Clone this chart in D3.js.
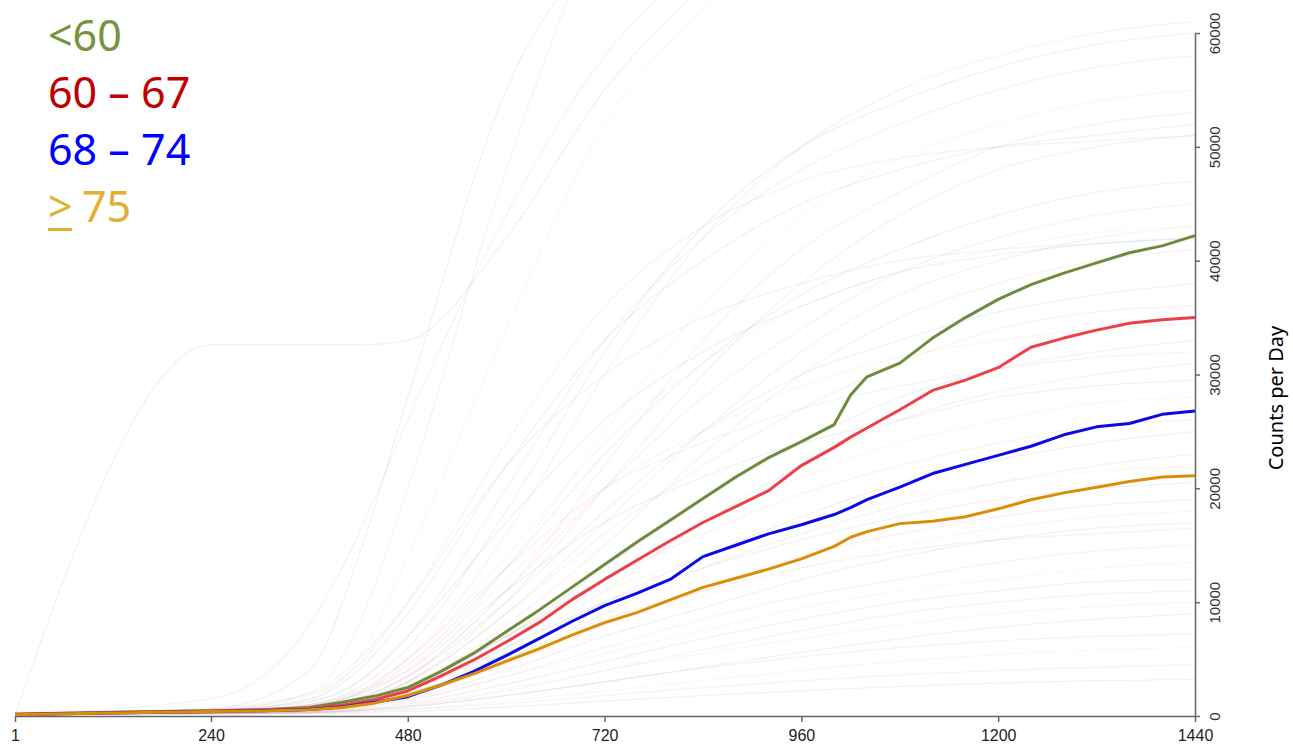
<!DOCTYPE html>
<html>
<head>
<meta charset="utf-8">
<script src="https://cdn.jsdelivr.net/npm/d3@7"></script>
<style>
  html, body { margin: 0; padding: 0; background: #fff; }
  #container { width: 1293px; height: 747px; }
</style>
</head>
<body>
<div id="container"></div>
<script>
////////// DATA

// minute of day for the group averages
var minutes = [1, 60, 120, 180, 240, 300, 360, 400, 440, 480, 520, 560, 600, 640, 680, 720,
	760, 800, 840, 880, 920, 960, 1000, 1020, 1040, 1080, 1120, 1160, 1200, 1240, 1280, 1320,
	1360, 1400, 1440];

// cumulative counts, one array per age group
var under60 = [150, 250, 330, 400, 470, 560, 750, 1200, 1750, 2500, 3900, 5500, 7400, 9300,
	11300, 13300, 15300, 17200, 19100, 21000, 22700, 24100, 25600, 28200, 29800, 31000, 33200,
	35000, 36600, 37900, 38900, 39800, 40700, 41300, 42200];
var age60to67 = [150, 230, 300, 370, 440, 520, 650, 950, 1450, 2200, 3500, 4900, 6500, 8200,
	10200, 12000, 13700, 15400, 17000, 18400, 19800, 22000, 23600, 24500, 25300, 26900, 28600,
	29500, 30600, 32400, 33200, 33900, 34500, 34800, 35000];
var age68to74 = [120, 200, 270, 330, 400, 470, 580, 800, 1200, 1700, 2700, 3900, 5300, 6800,
	8300, 9700, 10800, 12000, 14000, 15000, 16000, 16800, 17700, 18300, 19000, 20100, 21300,
	22100, 22900, 23700, 24700, 25400, 25700, 26500, 26800];
var age75plus = [120, 200, 270, 330, 400, 450, 560, 750, 1150, 1800, 2700, 3700, 4800, 5900,
	7100, 8200, 9100, 10200, 11300, 12100, 12900, 13800, 14900, 15700, 16200, 16900, 17100,
	17500, 18200, 19000, 19600, 20100, 20600, 21000, 21100];

var groupNames = ["<60", "60 \u2013 67", "68 \u2013 74", "75"];
var groupColors = ["#6e8b3d", "#ec4048", "#0a0ae6", "#d98e06"];
var legendColors = ["#77933c", "#c00000", "#0000ff", "#e0b030"];

// individual participants (faint), in thousands of counts
var bgMinutes = [1, 240, 360, 420, 480, 600, 720, 840, 960, 1080, 1200, 1320, 1440];
var bgGroups = [1, 2, 0, 3, 2,  1, 2, 0, 3, 1, 2, 0, 1,  2, 1, 3, 0, 2, 1, 0,
	2, 1, 3, 2, 1, 0, 2, 3,  1, 2, 3, 0, 2, 1, 3, 2, 0,  1, 3, 2, 1, 3, 2, 0, 3, 1, 2];
var bgCurves = [
	[0.2, 0.5, 2, 8, 20, 48, 70, 80, 85, 88, 90, 90, 90],
	[0.2, 0.6, 4, 14, 28, 55, 68, 75, 80, 82, 84, 85, 85],
	[0.2, 1.5, 8, 16, 26, 44, 58, 66, 70, 72, 74, 75, 75],
	[0.2, 0.4, 1.5, 5, 14, 34, 52, 62, 68, 70, 71, 72, 72],
	[0.1, 32.6, 32.6, 32.6, 33, 42, 55, 64, 70, 73, 75, 76, 77],
	[0.2, 0.4, 0.9, 2.0, 5, 16, 30, 42, 50, 55, 58, 60, 61],
	[0.2, 0.4, 1.0, 2.5, 6, 18, 32, 43, 50, 54, 57, 59, 60],
	[0.2, 0.5, 1.2, 3.0, 7, 20, 33, 42, 48, 52, 55, 57, 58],
	[0.2, 0.4, 0.8, 1.8, 4, 13, 25, 36, 44, 49, 52, 54, 55],
	[0.2, 0.3, 0.7, 1.5, 3.5, 11, 22, 33, 41, 46, 50, 52, 53],
	[0.2, 0.5, 1.5, 4, 9, 22, 33, 40, 45, 48, 50, 51, 52],
	[0.2, 0.3, 0.6, 1.2, 3, 10, 20, 30, 38, 44, 48, 50, 51],
	[0.3, 0.6, 1.8, 4.5, 10, 24, 36, 43, 47, 49, 50, 50.5, 51],
	[0.2, 0.4, 0.9, 2, 4.5, 13, 23, 31, 37, 41, 44, 46, 47],
	[0.2, 0.4, 0.8, 1.6, 3.5, 11, 20, 28, 34, 39, 42, 44, 45],
	[0.2, 0.4, 1.0, 2.2, 5, 14, 24, 31, 36, 39, 41, 42.5, 43],
	[0.2, 0.3, 0.6, 1.3, 3, 9, 17, 25, 32, 37, 40, 42, 43],
	[0.2, 0.5, 1.3, 3, 7, 17, 26, 32, 36, 39, 40.5, 41.5, 42],
	[0.2, 0.3, 0.6, 1.1, 2.5, 8, 15, 23, 30, 35, 38, 40, 41],
	[0.3, 0.7, 2, 5, 10, 22, 30, 35, 38, 40, 41, 41.5, 42],
	[0.2, 0.4, 0.8, 1.6, 3.5, 10, 18, 25, 30, 33, 35.5, 37, 38],
	[0.2, 0.3, 0.7, 1.4, 3, 9, 16, 22, 27, 31, 34, 35.5, 36],
	[0.2, 0.4, 0.9, 2, 4.2, 12, 20, 25, 29, 31.5, 33, 34, 34.5],
	[0.2, 0.3, 0.6, 1.2, 2.5, 7, 13, 19, 24, 28, 30.5, 32, 33],
	[0.2, 0.4, 1.0, 2.2, 5, 13, 20, 24, 27, 29, 30.5, 31.5, 32],
	[0.2, 0.3, 0.5, 1.0, 2.2, 6, 11, 17, 22, 26, 28.5, 30, 31],
	[0.2, 0.4, 0.9, 1.9, 4, 11, 17, 21, 24, 26, 28, 29, 29.5],
	[0.2, 0.3, 0.6, 1.2, 2.6, 7, 12, 17, 21, 24, 26, 27.5, 28],
	[0.2, 0.3, 0.6, 1.2, 2.5, 7, 12, 16, 19.5, 22, 24, 25.5, 26],
	[0.2, 0.3, 0.5, 1.0, 2.0, 5.5, 10, 14, 17.5, 20.5, 22.5, 24, 25],
	[0.2, 0.3, 0.6, 1.3, 2.8, 7, 11, 14, 17, 19, 20.5, 21.5, 22],
	[0.2, 0.3, 0.5, 0.9, 1.8, 5, 9, 13, 16, 18.5, 20.5, 22, 23],
	[0.2, 0.3, 0.6, 1.1, 2.2, 6, 10, 13, 15.5, 17.5, 19, 20, 20.5],
	[0.2, 0.3, 0.5, 0.9, 1.8, 4.5, 8, 11, 14, 16, 17.5, 18.5, 19],
	[0.2, 0.3, 0.5, 1.0, 2.0, 5, 8, 10.5, 13, 15, 16.5, 17.5, 18],
	[0.2, 0.3, 0.4, 0.8, 1.5, 4, 7, 9.5, 12, 14, 15.5, 16.5, 17],
	[0.2, 0.3, 0.5, 1.0, 2.0, 5, 8.5, 11, 13, 14.5, 15.5, 16, 16.5],
	[0.2, 0.3, 0.4, 0.7, 1.3, 3.5, 6, 8.5, 10.5, 12, 13.5, 14.5, 15],
	[0.2, 0.3, 0.4, 0.8, 1.4, 3.5, 5.5, 7.5, 9.5, 11, 12, 13, 13.5],
	[0.2, 0.3, 0.4, 0.6, 1.1, 2.8, 4.8, 6.8, 8.5, 10, 11, 11.8, 12],
	[0.2, 0.2, 0.3, 0.5, 0.9, 2.2, 4, 5.8, 7.5, 9, 10, 10.7, 11],
	[0.2, 0.3, 0.4, 0.6, 1.0, 2.4, 4, 5.5, 6.8, 8, 9, 9.6, 10],
	[0.2, 0.2, 0.3, 0.5, 0.8, 1.8, 3, 4.3, 5.6, 6.8, 7.8, 8.5, 9],
	[0.2, 0.2, 0.3, 0.5, 0.8, 1.8, 3, 4.2, 5.2, 6, 6.6, 7, 7.2],
	[0.2, 0.2, 0.3, 0.4, 0.6, 1.3, 2.2, 3.1, 4, 4.8, 5.4, 5.8, 6],
	[0.2, 0.2, 0.3, 0.4, 0.6, 1.1, 1.8, 2.5, 3.1, 3.6, 4, 4.3, 4.5],
	[0.1, 0.2, 0.2, 0.3, 0.4, 0.8, 1.3, 1.8, 2.2, 2.6, 2.9, 3.1, 3.2]
];
var bgColors = ["#4f8a1f", "#e03a3a", "#3a3ae0", "#e0a020"];

var xTicks = [1, 240, 480, 720, 960, 1200, 1440];
var yTicks = [0, 10000, 20000, 30000, 40000, 50000, 60000];
var yTitle = "Counts per Day";

////////// DRAWING

var gWidth = 1293;
var gHeight = 747;

var svg = d3.select("#container").append("svg")
	.attr("width", gWidth)
	.attr("height", gHeight);

var x = d3.scaleLinear().domain([1, 1440]).range([15, 1195]);
var y = d3.scaleLinear().domain([0, 60000]).range([716, 33]);

svg.append("clipPath").attr("id", "plotClip")
	.append("rect")
	.attr("x", x(1)).attr("y", 0)
	.attr("width", x(1440) - x(1)).attr("height", y(0));

// faint individual curves
var bgLine = d3.line()
	.x(function(d, i) { return x(bgMinutes[i]); })
	.y(function(d) { return y(d * 1000); })
	.curve(d3.curveMonotoneX);

svg.append("g").attr("clip-path", "url(#plotClip)")
	.selectAll(".bgLine").data(bgCurves).enter().append("path")
	.attr("class", "bgLine")
	.attr("d", bgLine)
	.style("fill", "none")
	.style("stroke", function(d, i) { return bgColors[bgGroups[i]]; })
	.style("stroke-opacity", 0.08)
	.style("stroke-width", "1.2px");

// axes
var xAxis = svg.append("g")
	.attr("transform", "translate(0," + y(0) + ")")
	.call(d3.axisBottom(x).tickValues(xTicks).tickFormat(d3.format("d"))
		.tickSize(6).tickSizeOuter(0).tickPadding(8));
xAxis.selectAll("text")
	.style("font-family", "'Liberation Sans', Arial, sans-serif")
	.style("font-size", "16px")
	.style("fill", "#222");

var yAxis = svg.append("g")
	.attr("transform", "translate(" + x(1440) + ",0)")
	.call(d3.axisRight(y).tickValues(yTicks).tickFormat(d3.format("d"))
		.tickSize(5).tickSizeOuter(0));
yAxis.selectAll("text")
	.attr("x", 0).attr("dy", 0)
	.attr("transform", "translate(25,0) rotate(-90)")
	.style("text-anchor", "middle")
	.style("font-family", "'Liberation Sans', Arial, sans-serif")
	.style("font-size", "15px")
	.style("fill", "#333");

svg.selectAll(".domain, .tick line")
	.style("stroke", "#666")
	.style("stroke-width", "1.5px");

// group averages
var series = [under60, age60to67, age68to74, age75plus];
var mainLine = d3.line()
	.x(function(d, i) { return x(minutes[i]); })
	.y(function(d) { return y(d); });

svg.selectAll(".groupLine").data(series).enter().append("path")
	.attr("class", "groupLine")
	.attr("d", mainLine)
	.style("fill", "none")
	.style("stroke", function(d, i) { return groupColors[i]; })
	.style("stroke-width", "3px")
	.style("stroke-linejoin", "round");

// legend
svg.selectAll(".legendText").data(groupNames).enter().append("text")
	.attr("class", "legendText")
	.attr("x", function(d, i) { return i == 3 ? 82 : 48; })
	.attr("y", function(d, i) { return 51 + i * 57; })
	.text(function(d) { return d; })
	.style("font-family", "'Noto Sans', 'Open Sans', sans-serif")
	.style("font-size", "43px")
	.style("fill", function(d, i) { return legendColors[i]; });

// underlined ">" for the last group
svg.append("text")
	.attr("x", 48).attr("y", 51 + 3 * 57)
	.text(">")
	.style("font-family", "'Noto Sans', 'Open Sans', sans-serif")
	.style("font-size", "43px")
	.style("fill", legendColors[3]);
svg.append("rect")
	.attr("x", 48).attr("y", 228)
	.attr("width", 24).attr("height", 3)
	.attr("fill", legendColors[3]);

// y title
svg.append("text")
	.attr("transform", "translate(1283,398) rotate(-90)")
	.style("text-anchor", "middle")
	.style("font-family", "'Noto Sans', 'Open Sans', sans-serif")
	.style("font-size", "20px")
	.style("fill", "#000")
	.text(yTitle);
</script>
</body>
</html>
